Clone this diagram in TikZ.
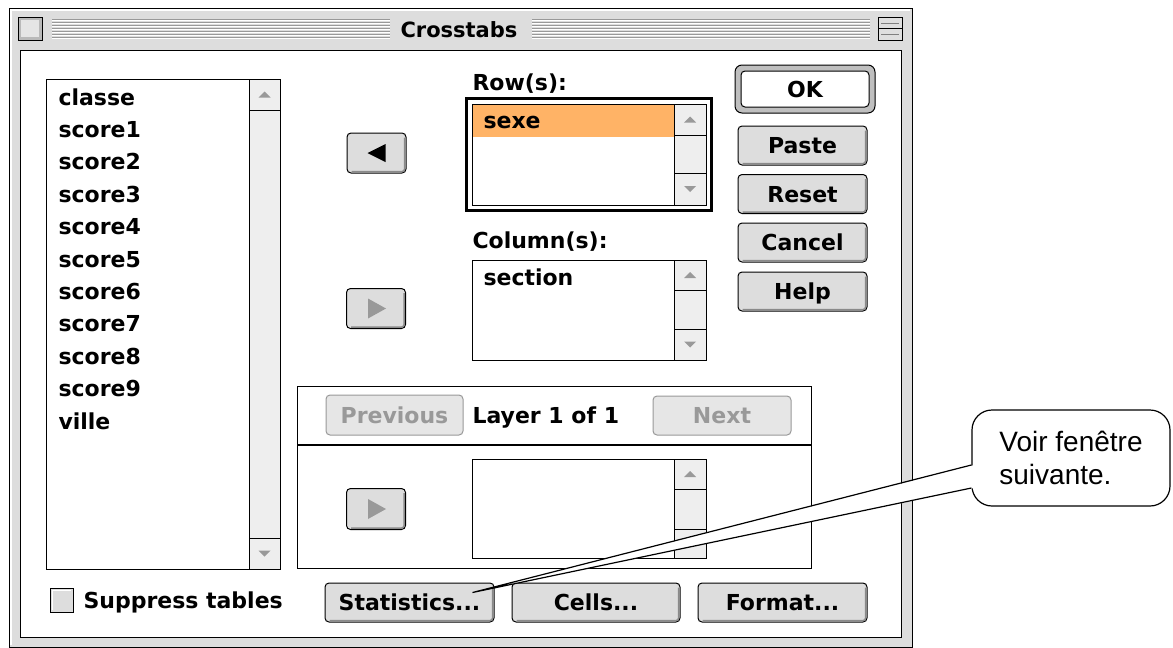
\documentclass[tikz,border=0pt]{standalone}
\usepackage{fontspec}
\setmainfont{Liberation Sans}
\newfontfamily\chicago{DejaVu Sans}
\usetikzlibrary{calc, positioning}
\definecolor{wingray}{HTML}{DDDDDD}
\definecolor{btnface}{HTML}{DDDDDD}
\definecolor{track}{HTML}{EEEEEE}
\definecolor{hilite}{HTML}{FFB366}
\definecolor{dimtext}{HTML}{999999}
\definecolor{dimface}{HTML}{E6E6E6}
\definecolor{bevelgray}{HTML}{8A8A8A}
\tikzset{
  uifont/.style={font=\chicago\bfseries\fontsize{22}{26}\selectfont},
  item/.style={uifont, anchor=base west, inner sep=0pt},
  macbtn/.style={uifont, draw=black, fill=btnface, rounded corners=4pt,
                 inner sep=0pt, text height=16pt, text depth=0pt},
  offbtn/.style={macbtn, draw=dimtext, fill=dimface, text=dimtext},
  bevel/.style={bevelgray, line width=1.5pt, rounded corners=3pt},
  listbox/.style={draw=black, fill=white},
  scroll/.style={draw=black, fill=track},
  tri/.style={fill=dimtext},
  note/.style={draw=black, line width=1.2pt, fill=white, rounded corners=20pt,
               align=left, font=\fontsize{28}{33}\selectfont,
               minimum width=198pt, minimum height=96pt},
}

\begin{document}
\begin{tikzpicture}[x=1pt, y=-1pt, line width=1pt]
  \useasboundingbox (0,0) rectangle (1173,648);

  %% Window frame
  \draw[fill=wingray] (9,8) rectangle (912,647);
  \draw[white, line width=1.5pt] (11,645) -- (11,10) -- (910,10);
  \draw[fill=white] (20,50) rectangle (901,637);

  %% Title bar
  \foreach \y in {19,22,...,37}{
    \draw[gray!80] (52,\y) -- (390,\y);
    \draw[gray!80] (532,\y) -- (870,\y);
    \draw[white] (52,\y+1) -- (390,\y+1);
    \draw[white] (532,\y+1) -- (870,\y+1);
  }
  \node[font=\chicago\bfseries\fontsize{21}{24}\selectfont, anchor=base west,
        inner sep=0pt] (title) at (400,37) {Crosstabs};
  \draw[fill=gray!55] (18,17) rectangle (42,40);
  \fill[gray!20] (21,20) rectangle (39,37);
  \draw[fill=gray!25] (878,17) rectangle (902,40);
  \draw (878,28.5) -- (902,28.5);
  \draw[gray] (881,23) -- (899,23);
  \draw[gray] (881,34) -- (899,34);

  %% Variable list
  \draw[listbox] (46,79) rectangle (280,569);
  \draw[scroll] (249,79) rectangle (280,569);
  \draw (249,110) -- (280,110);
  \draw (249,538) -- (280,538);
  \fill[tri] (258.5,97.5) -- (270.5,97.5) -- (264.5,91.5) -- cycle;
  \fill[tri] (258.5,550.5) -- (270.5,550.5) -- (264.5,556.5) -- cycle;
  \foreach \v [count=\i from 0] in {classe, score1, score2, score3, score4,
                                    score5, score6, score7, score8, score9, ville}{
    \node[item] (var\i) at (58,{105+32.4*\i}) {\v};
  }

  %% Target boxes with scroll bars
  \draw[line width=2.5pt] (466.5,98.5) rectangle (711.5,210.5);
  \foreach \t/\u/\d/\b in {104/135/173/205, 260/290/329/360, 459/489/529/558}{
    \draw[listbox] (472,\t) rectangle (706,\b);
    \draw[scroll] (674,\t) rectangle (706,\b);
    \draw (674,\u) -- (706,\u);
    \draw (674,\d) -- (706,\d);
    \fill[tri] (684,{(\t+\u)/2+3}) -- (696,{(\t+\u)/2+3}) -- (690,{(\t+\u)/2-3}) -- cycle;
    \fill[tri] (684,{(\d+\b)/2-3}) -- (696,{(\d+\b)/2-3}) -- (690,{(\d+\b)/2+3}) -- cycle;
  }
  \fill[hilite] (473,105) rectangle (674,137);
  \node[item] (rowlbl) at (472,90)  {Row(s):};
  \node[item] (sexe)   at (483,128) {sexe};
  \node[item] (collbl) at (472,248) {Column(s):};
  \node[item] (sect)   at (483,285) {section};

  %% Arrow buttons
  \node[macbtn, minimum width=59pt, minimum height=40pt] (toRow)   at (376.5,153) {};
  \node[macbtn, minimum width=59pt, minimum height=40pt] (toCol)   at (376,308.5) {};
  \node[macbtn, minimum width=59pt, minimum height=41pt] (toLayer) at (376,509)   {};
  \fill ($(toRow)+(-9,0)$) -- ($(toRow)+(9,-9)$) -- ($(toRow)+(9,9)$) -- cycle;
  \fill[dimtext] ($(toCol)+(10,0)$) -- ($(toCol)+(-8,-10)$) -- ($(toCol)+(-8,10)$) -- cycle;
  \fill[dimtext] ($(toLayer)+(10,0)$) -- ($(toLayer)+(-8,-10)$) -- ($(toLayer)+(-8,10)$) -- cycle;

  %% Command buttons
  \draw[fill=gray!50, rounded corners=7pt] (735,65) rectangle (875,113);
  \node[macbtn, fill=white, minimum width=128pt, minimum height=36pt] (ok) at (805,89) {OK};
  \foreach \n/\lbl/\yc in {paste/Paste/145.5, reset/Reset/194,
                           cancel/Cancel/242.5, help/Help/291.5}{
    \node[macbtn, minimum width=129pt, minimum height=39pt] (\n) at (802.5,\yc) {\lbl};
  }

  %% Layer panel
  \draw (297,386) rectangle (811,568);
  \draw[line width=2pt] (297,445) -- (811,445);
  \node[offbtn, minimum width=137pt, minimum height=40pt] (prev) at (394.5,415) {Previous};
  \node[item] (layer) at (472,423) {Layer 1 of 1};
  \node[offbtn, minimum width=138pt, minimum height=39pt] (next) at (722,415.5) {Next};

  %% Bottom row
  \draw[fill=btnface] (50,588) rectangle (73,612);
  \draw[white] (52,610) -- (52,590) -- (71,590);
  \node[item] (suppress) at (83,608) {Suppress tables};
  \node[macbtn, minimum width=169pt, minimum height=39pt] (stat)  at (409.5,602.5) {Statistics...};
  \node[macbtn, minimum width=168pt, minimum height=39pt] (cells) at (596,602.5)   {Cells...};
  \node[macbtn, minimum width=169pt, minimum height=39pt] (fmt)   at (782.5,602.5) {Format...};

  \foreach \b in {toRow, toCol, toLayer, paste, reset, cancel, help, stat, cells, fmt}{
    \draw[bevel] ([xshift=5pt,yshift=1.8pt]\b.south west)
      -- ([xshift=-1.8pt,yshift=1.8pt]\b.south east)
      -- ([xshift=-1.8pt,yshift=-5pt]\b.north east);
  }

  %% Callout
  \node[note] (callout) at (1071,458) {Voir fenêtre\\suivante.};
  \coordinate (tip) at ($(stat.north east)+(-22,10)$);
  \fill[white] (tip) -- ($(callout.west)+(3,7)$) -- ($(callout.west)+(3,30)$) -- cycle;
  \draw[line width=1.2pt] ($(callout.west)+(0,7)$) -- (tip) -- ($(callout.west)+(0,30)$);

\end{tikzpicture}
\end{document}
